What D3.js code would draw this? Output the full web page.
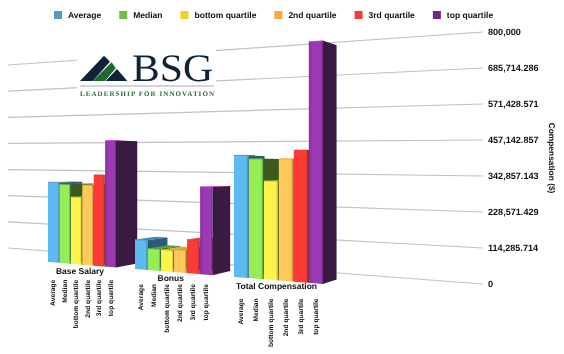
<!DOCTYPE html>
<html>
<head>
<meta charset="utf-8">
<script src="https://cdn.jsdelivr.net/npm/d3@7"></script>
<style>
html,body{margin:0;padding:0;background:#fff}
svg{display:block;filter:blur(0.35px);text-rendering:geometricPrecision}
text{font-family:"Liberation Sans",Arial,sans-serif;fill:#111}
</style>
</head>
<body>
<svg id="chart" width="564" height="354"></svg>
<script>
const categories = ["Base Salary", "Bonus", "Total Compensation"];
const series = ["Average", "Median", "bottom quartile", "2nd quartile", "3rd quartile", "top quartile"];
const baseSalary = [316000, 309000, 260000, 308000, 347000, 478000];
const bonus = [109000, 79000, 78000, 81000, 120000, 310000];
const totalCompensation = [421000, 409000, 334000, 409000, 438000, 795000];
const tickValues = [0, 114285.714, 228571.429, 342857.143, 457142.857, 571428.571, 685714.286, 800000];
const yTitle = "Compensation ($)";
const legendColors = ["#4f9cc9", "#70bf41", "#f3d02f", "#f9a83c", "#fb3b30", "#6c2a86"];
const frontColors = ["#5cbcf2", "#94ee58", "#fef34a", "#fec85a", "#fb3a36", "#9c3ab4"];
const edgeColors = ["#3f86b4", "#5f9e38", "#b7a72e", "#bd8b38", "#a52a24", "#6b2a80"];
const sideColors = ["#2c5a78", "#3a5a20", "#5a5a20", "#8a6a2a", "#7a2020", "#3a1a42"];
const topColors = ["#4a8ab0", "#5f9e38", "#c9b93a", "#d9a345", "#e03a30", "#c94ae0"];

const groupedValues = [baseSalary, bonus, totalCompensation];
const svg = d3.select("#chart");

// perspective model of the 3D plot
const axisScale = d3.scaleLinear().domain([0, 800000]).range([284, 32]);
const wallLeft = d3.scaleLinear().domain([0, 800000]).range([248, 65]);
const xLeft = 8, xRight = 483;
const frontBottom = d3.scaleLinear().domain([48, 323]).range([262, 284]);
const frontSpan = d3.scaleLinear().domain([xLeft, xRight]).range([195.8, 269.6]);
const valueShare = d3.scaleLinear().domain([0, 800000]).range([0, 1]);
const frontY = (x, v) => frontBottom(x) - valueShare(v) * frontSpan(x);
const groupStart = d3.scaleLinear().domain([0, 1, 2]).range([48, 135, 234]);
const groupEnd = d3.scaleLinear().domain([0, 1, 2]).range([116, 212.5, 323]);
const vp = [690, 163], depth = 0.037;
const back = (x, y) => [x + (vp[0] - x) * depth, y + (vp[1] - y) * depth];
const poly = pts => pts.map(p => p.join(",")).join(" ");

// gradients
const defs = svg.append("defs");
series.forEach((s, i) => {
  const g = defs.append("linearGradient").attr("id", "front" + i);
  g.append("stop").attr("offset", "0").attr("stop-color", i === 5 ? "#8a30a0" : frontColors[i]);
  g.append("stop").attr("offset", i === 5 ? ".35" : ".72").attr("stop-color", frontColors[i]);
  g.append("stop").attr("offset", ".85").attr("stop-color", frontColors[i]);
  g.append("stop").attr("offset", "1").attr("stop-color", edgeColors[i]);
});

// gridlines
svg.append("g").selectAll("line").data(tickValues).join("line")
  .attr("x1", xLeft).attr("x2", xRight)
  .attr("y1", d => wallLeft(d)).attr("y2", d => axisScale(d))
  .attr("stroke", "#c2c2c2").attr("stroke-width", 1.2);

// value axis
const axis = d3.axisRight(axisScale).tickValues(tickValues).tickSize(0).tickPadding(5)
  .tickFormat(d3.format(",.3~f"));
const axisG = svg.append("g").attr("transform", `translate(${xRight},0)`).call(axis);
axisG.select(".domain").remove();
axisG.selectAll("text").attr("font-size", 9.1).attr("font-weight", "bold")
  .style("font-family", '"Liberation Sans",Arial,sans-serif').attr("fill", "#111");

svg.append("text").attr("transform", "translate(549,158) rotate(90)")
  .attr("text-anchor", "middle").attr("font-size", 8.4).attr("font-weight", "bold").text(yTitle);

// logo
const logo = svg.append("g");
logo.append("rect").attr("x", 77).attr("y", 50).attr("width", 139).attr("height", 47).attr("fill", "#fff");
logo.append("polygon").attr("points", "80,81 104,55.7 110,61.7 92.7,81").attr("fill", "#0f2238");
logo.append("polygon").attr("points", "92.7,81 111.7,62.3 115.7,68.3 105,81").attr("fill", "#1c6b30");
logo.append("polygon").attr("points", "105.7,81 117,69 127.3,81").attr("fill", "#0f2238");
logo.append("text").attr("x", 132).attr("y", 81).attr("textLength", 81).attr("lengthAdjust", "spacingAndGlyphs")
  .attr("font-size", 39).style("font-family", '"Liberation Serif",serif').style("fill", "#0f2238").text("BSG");
logo.append("line").attr("x1", 80).attr("x2", 214).attr("y1", 86).attr("y2", 86)
  .attr("stroke", "#8a94a8").attr("stroke-width", 0.8);
logo.append("text").attr("x", 80).attr("y", 96).attr("textLength", 134).attr("lengthAdjust", "spacing")
  .attr("font-size", 7).attr("font-weight", "bold").style("font-family", '"Liberation Serif",serif')
  .style("fill", "#2a6a3a").text("LEADERSHIP FOR INNOVATION");

// bars
categories.forEach((cat, ci) => {
  const band = d3.scaleBand().domain(series).range([groupStart(ci), groupEnd(ci)]).paddingInner(0.05);
  const g = svg.append("g");
  const rows = series.map((s, i) => ({ s, i, v: groupedValues[ci][i] }));
  const bar = g.selectAll("g").data(rows).join("g");
  const corners = d => {
    const l = band(d.s), r = l + band.bandwidth();
    return {
      bl: [l, frontBottom(l)], br: [r, frontBottom(r)],
      tl: [l, frontY(l, d.v)], tr: [r, frontY(r, d.v)]
    };
  };
  bar.append("polygon").attr("fill", d => topColors[d.i]).attr("points", d => {
    const c = corners(d);
    return poly([c.tl, c.tr, back(...c.tr), back(...c.tl)]);
  });
  bar.append("polygon").attr("fill", d => sideColors[d.i]).attr("points", d => {
    const c = corners(d);
    return poly([c.tr, back(...c.tr), back(...c.br), c.br]);
  });
  bar.append("polygon").attr("fill", d => `url(#front${d.i})`).attr("points", d => {
    const c = corners(d);
    return poly([c.tl, c.tr, c.br, c.bl]);
  });
  bar.append("line").attr("stroke", d => topColors[d.i]).attr("stroke-width", 0.8)
    .attr("x1", d => corners(d).tl[0]).attr("y1", d => corners(d).tl[1])
    .attr("x2", d => corners(d).tr[0]).attr("y2", d => corners(d).tr[1]);

  // category title and rotated series labels
  const mid = (band(series[0]) + band(series[5]) + band.bandwidth()) / 2;
  const titleY = frontBottom(mid) + 9;
  svg.append("text").attr("x", mid - [2, 3, 2][ci]).attr("y", titleY).attr("text-anchor", "middle")
    .attr("font-size", 8.5).attr("font-weight", "bold").text(cat);
  svg.append("g").selectAll("text").data(series).join("text")
    .attr("transform", d => `translate(${band(d) + band.bandwidth() / 2 + 2},${titleY + [6, 3, 9][ci]}) rotate(-90)`)
    .attr("text-anchor", "end").attr("font-size", 6.7).attr("font-weight", "bold").text(d => d);
});

// legend
let lx = 54;
series.forEach((s, i) => {
  svg.append("rect").attr("x", lx).attr("y", 11).attr("width", 8).attr("height", 8).attr("fill", legendColors[i]);
  const t = svg.append("text").attr("x", lx + 14).attr("y", 18.2).attr("font-size", 8.5).attr("font-weight", "bold").text(s);
  lx += 14 + t.node().getComputedTextLength() + 18;
});
</script>
</body>
</html>
